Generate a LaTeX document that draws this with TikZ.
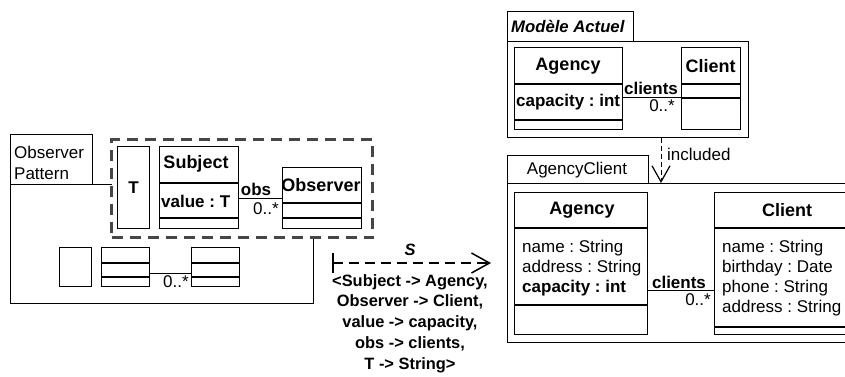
\documentclass[tikz,border=0pt]{standalone}
\usepackage{fontspec}
\setmainfont{Liberation Sans}
\usepackage{tikz}
\usetikzlibrary{arrows.meta,positioning,calc}
\frenchspacing
\definecolor{framegray}{RGB}{70,70,70}
\tikzset{
  umlbox/.style={draw=black,line width=1.2pt,fill=white,inner sep=0pt,anchor=north west},
  tmplframe/.style={umlbox,draw=framegray,line width=3pt,dash pattern=on 11pt off 7pt},
  txt/.style={inner sep=0pt,font=\fontsize{17}{20.5}\selectfont},
  btxt/.style={inner sep=0pt,font=\fontsize{17}{20.5}\selectfont\bfseries},
  clsname/.style={inner sep=0pt,font=\fontsize{18}{21}\selectfont\bfseries},
  maptxt/.style={inner sep=0pt,font=\fontsize{16.4}{20.75}\selectfont\bfseries},
  assoc/.style={draw=black,line width=1.2pt},
  mapping/.style={{Bar[width=20pt,line width=1.5pt]}-{Straight Barb[length=18pt,width=20pt,line width=1.5pt]},draw=black,line width=1.8pt,dash pattern=on 10pt off 6pt},
  incl/.style={-{Straight Barb[length=16pt,width=18pt,line width=1.2pt]},draw=black,line width=1pt,dash pattern=on 5pt off 3pt}
}
\newcommand{\compline}[2]{\draw[assoc] ($(#1.north west)+(0,#2)$) -- ($(#1.north east)+(0,#2)$);}

\begin{document}
\begin{tikzpicture}[x=1pt,y=-1pt]
  \useasboundingbox (0,0) rectangle (845,376);
  \clip (0,0) rectangle (845,376);
  % generic observer pattern
  \node[umlbox,minimum width=82pt,minimum height=50pt] (optab) at (10,134) {};
  \node[umlbox,minimum width=303pt,minimum height=119pt] (opbody) at (10,184) {};
  \node[txt,anchor=west,align=left] (opname) at (14,163) {Observer\\Pattern};
  \node[tmplframe,minimum width=261pt,minimum height=98pt] (tmpl) at (110,138) {};
  \node[umlbox,minimum width=32pt,minimum height=82pt] (tpar) at (117,146) {};
  \node[btxt] at (tpar.center) {T};
  \node[umlbox,minimum width=79pt,minimum height=82pt] (subj) at (159,146) {};
  \compline{subj}{37} \compline{subj}{72}
  \node[clsname] at (196,164) {Subject};
  \node[btxt,anchor=west] at (161,201) {value : T};
  \node[umlbox,minimum width=79pt,minimum height=61pt] (obsv) at (282,167) {};
  \compline{obsv}{36} \compline{obsv}{51}
  \node[clsname] at (321,185) {Observer};
  \draw[assoc] (subj.east |- obsv) -- (obsv.west);
  \node[btxt] at (256,189) {obs};
  \node[txt] at (266,209) {0..*};
  % shrunk copy
  \node[umlbox,minimum width=32pt,minimum height=39pt] (minit) at (59,247) {};
  \node[umlbox,minimum width=48pt,minimum height=39pt] (minisubj) at (101,247) {};
  \compline{minisubj}{16} \compline{minisubj}{30}
  \node[umlbox,minimum width=48pt,minimum height=39pt] (miniobsv) at (191,247) {};
  \compline{miniobsv}{16} \compline{miniobsv}{30}
  \draw[assoc] ([yshift=-6.5pt]minisubj.east) -- ([yshift=-6.5pt]miniobsv.west);
  \node[txt] at (176,282) {0..*};
  % mapping
  \coordinate (mapstart) at (332,263);
  \coordinate (mapend) at (491,263);
  \draw[mapping] (mapstart) -- (mapend);
  \node[maptxt,font=\fontsize{16.4}{20.75}\selectfont\bfseries\itshape] at (410,250) {S};
  \node[maptxt,align=center,anchor=north] (maplbl) at (410,274) {<Subject -> Agency,\\Observer -> Client,\\value -> capacity,\\obs -> clients,\\T -> String>};
  % current model
  \node[umlbox,minimum width=126pt,minimum height=30pt] (matab) at (507,11) {};
  \node[umlbox,minimum width=241pt,minimum height=96pt] (mabody) at (507,41) {};
  \node[btxt,font=\fontsize{16.7}{20.5}\selectfont\bfseries\itshape,anchor=west] at (511,26) {Modèle Actuel};
  \node[umlbox,minimum width=108pt,minimum height=82pt] (agency) at (514,47) {};
  \compline{agency}{37} \compline{agency}{73}
  \node[clsname] at (568,66) {Agency};
  \node[btxt,anchor=west] at (516,102) {capacity : int};
  \node[umlbox,minimum width=59pt,minimum height=82pt] (client) at (681,47) {};
  \compline{client}{37} \compline{client}{51}
  \node[clsname] at (710.5,66) {Client};
  \draw[assoc] ([yshift=-9pt]agency.east) -- ([yshift=-9pt]client.west);
  \node[btxt] at (651,88) {clients};
  \node[txt] at (662,106) {0..*};
  % result model
  \node[umlbox,minimum width=141pt,minimum height=28pt] (actab) at (507,155) {};
  \node[umlbox,minimum width=400pt,minimum height=159pt] (acbody) at (507,183) {};
  \node[txt] at (577,170) {AgencyClient};
  \coordinate (inclx) at (661,0);
  \draw[incl] (mabody.south -| inclx) -- (acbody.north -| inclx);
  \node[txt,anchor=west] at (667,154) {included};
  \node[umlbox,minimum width=133pt,minimum height=142pt] (agency2) at (514,192) {};
  \compline{agency2}{36} \compline{agency2}{113}
  \node[clsname] at (582,210) {Agency};
  \node[txt,anchor=west] at (522,248) {name : String};
  \node[txt,anchor=west] at (522,268) {address : String};
  \node[btxt,anchor=west] at (522,288) {capacity : int};
  \node[umlbox,minimum width=146pt,minimum height=142pt] (client2) at (714,192) {};
  \compline{client2}{36} \compline{client2}{135}
  \node[clsname] at (787,210) {Client};
  \node[txt,anchor=west] at (722,248) {name : String};
  \node[txt,anchor=west] at (722,268) {birthday : Date};
  \node[txt,anchor=west] at (722,288) {phone : String};
  \node[txt,anchor=west] at (722,308) {address : String};
  \draw[assoc] ([yshift=-27pt]agency2.east) -- ([yshift=-27pt]client2.west);
  \node[btxt] at (679,282) {clients};
  \node[txt] at (698,300) {0..*};
\end{tikzpicture}
\end{document}
